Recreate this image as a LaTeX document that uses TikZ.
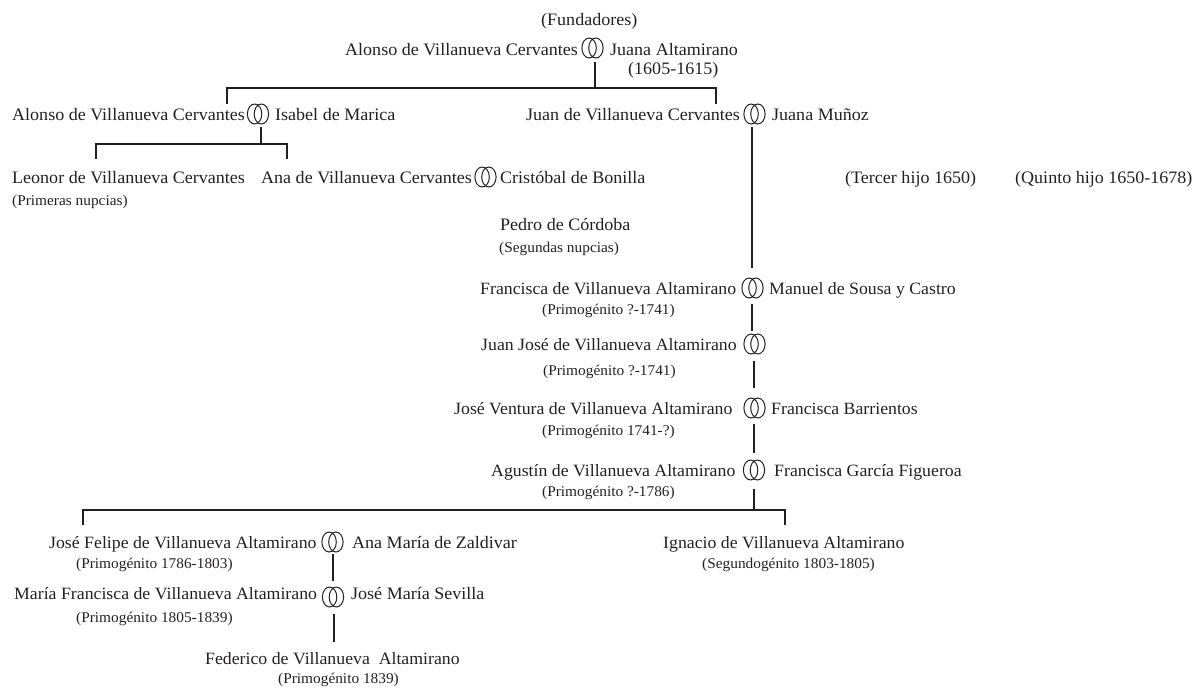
\documentclass[tikz,border=0pt]{standalone}
\usepackage{fontspec}
\setmainfont[FakeStretch=1.03]{Liberation Serif}
\definecolor{ink}{HTML}{231F20}
\tikzset{
  x=1pt,y=-1pt,
  nm/.style={anchor=base west,inner sep=0pt,text=ink,font=\fontsize{17.5}{20}\selectfont},
  na/.style={anchor=base west,inner sep=0pt,text=ink,font=\fontsize{17.25}{20}\selectfont},
  sm/.style={anchor=base west,inner sep=0pt,text=ink,font=\fontsize{14.9}{16}\selectfont},
  ringbox/.style={inner sep=0pt,minimum width=22pt,minimum height=20pt},
  ringline/.style={draw=ink,line width=1pt},
  link/.style={draw=ink,line width=1.5pt}
}
\newcommand{\ringat}[3]{%
  \node[ringbox] (#1) at (#2,#3) {};
  \draw[ringline] ([xshift=-3.4pt]#1.center) ellipse [x radius=7.2pt,y radius=10pt];
  \draw[ringline] ([xshift=3.4pt]#1.center) ellipse [x radius=7.2pt,y radius=10pt];
}
\begin{document}
\begin{tikzpicture}
\useasboundingbox (0,0) rectangle (1198,688);
% texts
\node[nm] (fund) at (541,25) {(Fundadores)};
\node[nm] (alonso) at (345,55) {Alonso de Villanueva Cervantes};
\node[nm] (juana) at (610,55) {Juana Altamirano};
\node[nm] (dates) at (628,74) {(1605-1615)};
\node[nm] (alonsob) at (12,120) {Alonso de Villanueva Cervantes};
\node[nm] (isabel) at (275,120) {Isabel de Marica};
\node[nm] (juan) at (526,120) {Juan de Villanueva Cervantes};
\node[nm] (munoz) at (772,120) {Juana Muñoz};
\node[nm] (leonor) at (12,183) {Leonor de Villanueva Cervantes};
\node[sm] (prim) at (12,205) {(Primeras nupcias)};
\node[nm] (ana) at (261,183) {Ana de Villanueva Cervantes};
\node[nm] (cris) at (500,183) {Cristóbal de Bonilla};
\node[nm] (pedro) at (500,230) {Pedro de Córdoba};
\node[sm] (seg) at (499,252) {(Segundas nupcias)};
\node[nm] (tercer) at (845,183) {(Tercer hijo 1650)};
\node[nm] (quinto) at (1015,183) {(Quinto hijo 1650-1678)};
\node[na] (fran) at (480,294) {Francisca de Villanueva Altamirano};
\node[na] (manuel) at (769,294) {Manuel de Sousa y Castro};
\node[sm] (franp) at (542,314) {(Primogénito ?-1741)};
\node[na] (jj) at (481,350) {Juan José de Villanueva Altamirano};
\node[sm] (jjp) at (543,375) {(Primogénito ?-1741)};
\node[na] (jv) at (454,414) {José Ventura de Villanueva Altamirano};
\node[na] (barr) at (771,414) {Francisca Barrientos};
\node[sm] (jvp) at (542,435) {(Primogénito 1741-?)};
\node[na] (agus) at (491,476) {Agustín de Villanueva Altamirano};
\node[na] (garcia) at (774,476) {Francisca García Figueroa};
\node[sm] (agusp) at (542,496) {(Primogénito ?-1786)};
\node[na] (jf) at (49,548) {José Felipe de Villanueva Altamirano};
\node[nm] (zald) at (352,548) {Ana María de Zaldivar};
\node[sm] (jfp) at (76,568) {(Primogénito 1786-1803)};
\node[na] (mf) at (14,599) {María Francisca de Villanueva Altamirano};
\node[nm] (sev) at (351,599) {José María Sevilla};
\node[sm] (mfp) at (76,622) {(Primogénito 1805-1839)};
\node[na] (fed) at (205,664) {Federico de Villanueva\ \ Altamirano};
\node[sm] (fedp) at (278,683) {(Primogénito 1839)};
\node[na] (ign) at (663,548) {Ignacio de Villanueva Altamirano};
\node[sm] (ignp) at (702,568) {(Segundogénito 1803-1805)};
% rings
\ringat{r1}{592.5}{48}
\ringat{r2}{258}{114}
\ringat{r3}{754.5}{114}
\ringat{r4}{485.5}{177}
\ringat{r5}{752.5}{288}
\ringat{r6}{754.5}{344}
\ringat{r7}{754.5}{408}
\ringat{r8}{754}{470}
\ringat{r9}{332.5}{542}
\ringat{r10}{333}{597}
% connector ends
\coordinate (a0) at (595,62); \coordinate (a1) at (595,88);
\coordinate (a2) at (227,104); \coordinate (a3) at (716,104);
\coordinate (b0) at (261,127); \coordinate (b1) at (261,144);
\coordinate (b2) at (96,159); \coordinate (b3) at (287,159);
\coordinate (c0) at (752,127); \coordinate (c1) at (752,268);
\coordinate (d0) at (752,304); \coordinate (d1) at (752,331);
\coordinate (e0) at (754,361); \coordinate (e1) at (754,388);
\coordinate (f0) at (754,424); \coordinate (f1) at (754,453);
\coordinate (g0) at (754,489); \coordinate (g1) at (754,510);
\coordinate (g2) at (83,525); \coordinate (g3) at (785,525);
\coordinate (h0) at (333,554); \coordinate (h1) at (333,581);
\coordinate (i0) at (334,614); \coordinate (i1) at (334,642);
% connectors
\draw[link] (a0) -- (a1);
\draw[link] (a2) -- (a2 |- a1) -- (a3 |- a1) -- (a3);
\draw[link] (b0) -- (b1);
\draw[link] (b2) -- (b2 |- b1) -- (b3 |- b1) -- (b3);
\draw[link] (c0) -- (c1);
\draw[link] (d0) -- (d1);
\draw[link] (e0) -- (e1);
\draw[link] (f0) -- (f1);
\draw[link] (g0) -- (g1);
\draw[link] (g2) -- (g2 |- g1) -- (g3 |- g1) -- (g3);
\draw[link] (h0) -- (h1);
\draw[link] (i0) -- (i1);
\end{tikzpicture}
\end{document}
